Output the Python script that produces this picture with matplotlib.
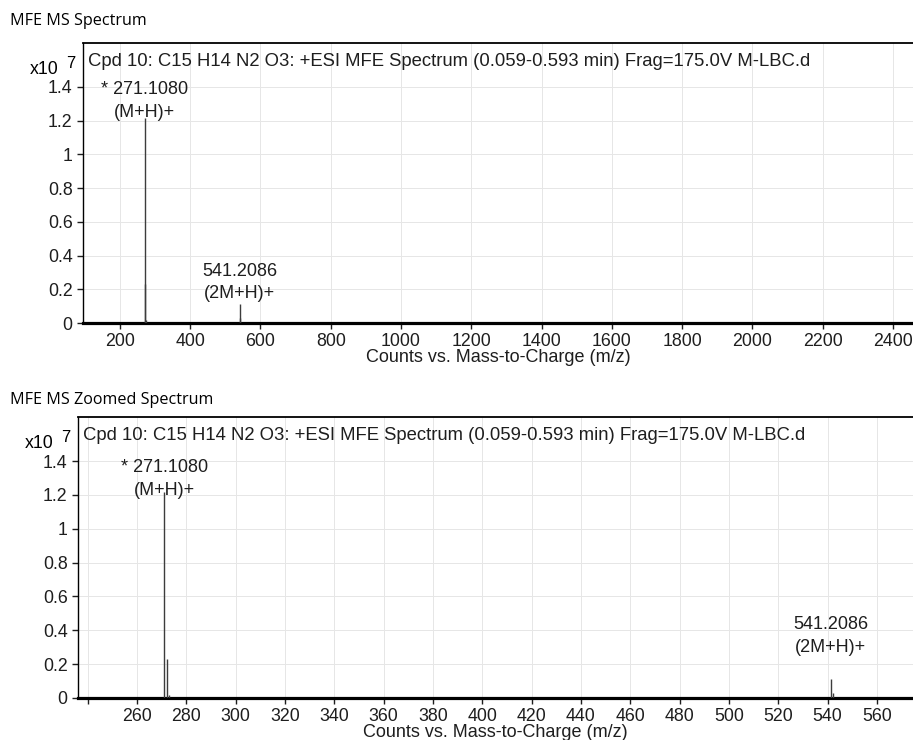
"""
MFE MS spectrum of Cpd 10, full range and zoomed view.
"""
import matplotlib
matplotlib.use('Agg')
import matplotlib.pyplot as plt
import numpy as np

plt.rcParams['font.family'] = ['Liberation Sans', 'DejaVu Sans']

# Peak list (m/z, counts)
mz = np.array([271.1080, 272.1110, 273.1140, 541.2086, 542.2120])
counts = np.array([1.215e7, 0.23e7, 0.02e7, 0.11e7, 0.03e7])

# Labelled peaks
label_mz = [271.1080, 541.2086]
label_height = [1.215e7, 0.11e7]
label_text = ['* 271.1080\n(M+H)+', '541.2086\n(2M+H)+']

full_xticks = np.arange(200, 2401, 200)
zoom_xticks = np.arange(240, 561, 20)
yticks = [0, 0.2, 0.4, 0.6, 0.8, 1, 1.2, 1.4]
ytick_labels = ['0', '0.2', '0.4', '0.6', '0.8', '1', '1.2', '1.4']

info = 'Cpd 10: C15 H14 N2 O3: +ESI MFE Spectrum (0.059-0.593 min) Frag=175.0V M-LBC.d'
xlabel = 'Counts vs. Mass-to-Charge (m/z)'

W, H = 913, 740
fig = plt.figure(figsize=(W / 100, H / 100), dpi=100)


def px(x, y):
    # pixel position (from top-left) -> figure fraction
    return x / W, 1 - y / H


ax1 = fig.add_axes([83 / W, 1 - 323 / H, 1 - 83 / W, 280 / H])
ax2 = fig.add_axes([78 / W, 1 - 698 / H, 1 - 78 / W, 281 / H])

fig.text(*px(10, 21), 'MFE MS Spectrum', fontsize=11.6, family='Open Sans', va='center')
fig.text(*px(10, 400), 'MFE MS Zoomed Spectrum', fontsize=11.6, family='Open Sans', va='center')


def draw(ax, xlim, xticks, xticklabels, offsets, top):
    y = counts / 1e7
    ax.vlines(mz, 0, y, color='#3c3c3c', lw=1.0, zorder=3)
    ax.set_xlim(*xlim)
    ax.set_ylim(0, 1.66)
    ax.set_xticks(xticks)
    ax.set_xticklabels(xticklabels)
    ax.set_yticks(yticks)
    ax.set_yticklabels(ytick_labels)
    ax.grid(True, color='#e6e6e6', lw=0.7)
    ax.set_axisbelow(True)
    ax.tick_params(labelsize=12.8, length=4, width=1, pad=3.5, colors='#1e1e1e')
    ax.spines['right'].set_visible(False)
    ax.spines['bottom'].set_linewidth(2.3)
    ax.spines['left'].set_linewidth(1.0)
    ax.spines['top'].set_linewidth(1.3)
    ax.set_xlabel(xlabel, fontsize=13, labelpad=-1, color='#1e1e1e')
    x0 = ax.get_position().x0 * W
    fig.text(*px(x0 + 5, top + 19), info, fontsize=13.3, va='center', ha='left', color='#1e1e1e')
    fig.text(*px(x0 - 53, top + 26), 'x10', fontsize=12.8, va='center', ha='left')
    fig.text(*px(x0 - 17, top + 20), '7', fontsize=12, va='center', ha='left')
    for m, h, t, off in zip(label_mz, label_height, label_text, offsets):
        ax.annotate(t, (m, h / 1e7), xytext=(0, off), textcoords='offset points',
                    ha='center', va='bottom', fontsize=13, linespacing=1.45,
                    color='#1e1e1e')


full_labels = [str(v) for v in full_xticks]
draw(ax1, (95, 2457), full_xticks, full_labels, [-2, 1.5], 43)

zoom_labels = ['' if v == 240 else str(v) for v in zoom_xticks]
draw(ax2, (236.1, 574.6), zoom_xticks, zoom_labels, [-5, 17], 417)

fig.savefig('out.png', dpi=100)
